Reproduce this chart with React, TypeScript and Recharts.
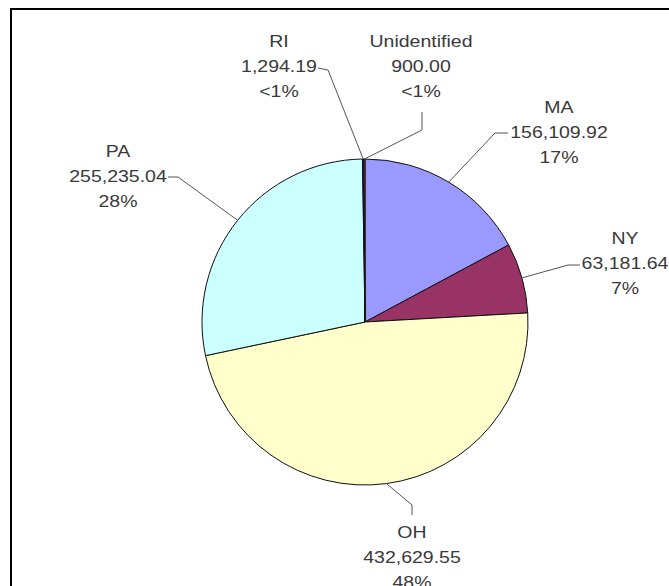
import { PieChart, Pie, Cell } from "recharts";

const STATES = ["MA", "NY", "OH", "PA", "RI", "Unidentified"];
const AMOUNTS = [156109.92, 63181.64, 432629.55, 255235.04, 1294.19, 900.0];
const COLORS = ["#9999ff", "#993366", "#ffffcc", "#ccffff", "#660066", "#ff8080"];

const data = STATES.map((name, i) => ({ name, value: AMOUNTS[i] }));

const CX = 360;
const CY = 317;
const RADIUS = 163;
const LINE_GAP = 25;
const STRETCH = 1.22;

// label block centre (first line) and leader elbow points, relative to pie centre
const LABEL_LAYOUT: Record<string, { tx: number; ty: number; elbow: number[][] }> = {
  MA: { tx: 194, ty: -215, elbow: [[130, -189], [143, -189]] },
  NY: { tx: 260, ty: -84, elbow: [[203, -57], [215, -57]] },
  OH: { tx: 47, ty: 210, elbow: [[47, 183], [47, 193]] },
  PA: { tx: -247, ty: -171, elbow: [[-187, -145], [-197, -145]] },
  RI: { tx: -86, ty: -281, elbow: [[-37, -252], [-47, -254]] },
  Unidentified: { tx: 56, ty: -281, elbow: [[57, -192], [57, -210]] },
};

const fmt = (v: number) =>
  v.toLocaleString("en-US", { minimumFractionDigits: 2, maximumFractionDigits: 2 });

function renderLabel(props: any) {
  const { midAngle, outerRadius, name, value, percent } = props;
  const cx = typeof props.cx === "number" ? props.cx : CX;
  const cy = typeof props.cy === "number" ? props.cy : CY;
  const lay = LABEL_LAYOUT[name];
  if (!lay) return null;
  const rad = Math.PI / 180;
  const px = cx + outerRadius * Math.cos(-midAngle * rad);
  const py = cy + outerRadius * Math.sin(-midAngle * rad);
  const pts = [[px, py], ...lay.elbow.map(([dx, dy]) => [cx + dx, cy + dy])];
  const pct = percent * 100 < 1 ? "<1%" : `${Math.round(percent * 100)}%`;
  const lines = [name, fmt(value), pct];
  const tx = cx + lay.tx;
  const ty = cy + lay.ty;
  return (
    <g>
      <polyline
        points={pts.map((p) => p.join(",")).join(" ")}
        fill="none"
        stroke="#555"
        strokeWidth={1}
      />
      {lines.map((t, i) => (
        <text
          key={i}
          x={tx / STRETCH}
          y={ty + i * LINE_GAP + 6}
          transform={`scale(${STRETCH},1)`}
          textAnchor="middle"
          fontFamily="'Liberation Sans', Arial, sans-serif"
          fontSize={16}
          fill="#3a3a3a"
        >
          {t}
        </text>
      ))}
    </g>
  );
}

export default function App() {
  return (
    <div
      style={{
        position: "absolute",
        left: 0,
        top: 0,
        width: 669,
        height: 586,
        background: "#fff",
        overflow: "hidden",
      }}
    >
      <div
        style={{
          position: "absolute",
          left: 10,
          top: 8,
          width: 669,
          height: 600,
          borderTop: "2px solid #000",
          borderLeft: "2px solid #000",
        }}
      />
      <div style={{ position: "absolute", left: 0, top: 0 }}>
        <PieChart width={669} height={586}>
          <Pie
            data={data}
            dataKey="value"
            nameKey="name"
            cx={CX}
            cy={CY}
            outerRadius={RADIUS}
            startAngle={90}
            endAngle={-270}
            stroke="#111"
            strokeWidth={1}
            label={renderLabel}
            labelLine={false}
            isAnimationActive={false}
          >
            {data.map((d, i) => (
              <Cell key={d.name} fill={COLORS[i]} />
            ))}
          </Pie>
        </PieChart>
      </div>
    </div>
  );
}
